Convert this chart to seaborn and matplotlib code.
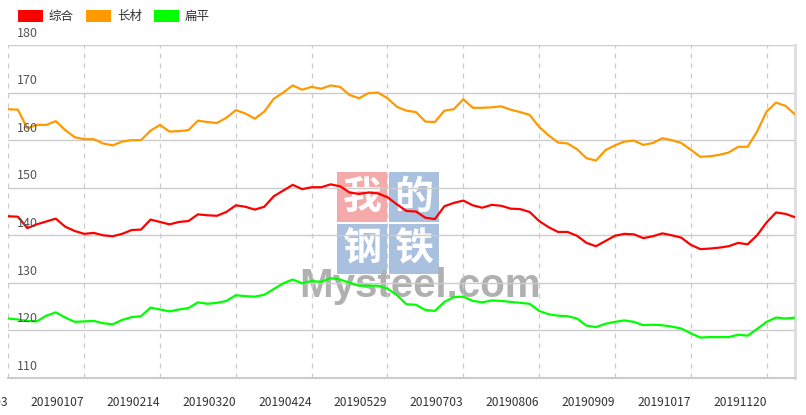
import matplotlib
matplotlib.use('Agg')
import matplotlib.pyplot as plt
import matplotlib.patches as mpatches
import seaborn as sns
import pandas as pd

# sample positions (trading-day index, every 3rd day)
day_index = list(range(0, 250, 3))

composite = [144.0, 143.9, 141.5, 142.3, 142.9, 143.5, 141.8, 140.9, 140.3, 140.5, 140.0,
             139.8, 140.3, 141.1, 141.2, 143.3, 142.8, 142.3, 142.8, 143.0, 144.4,
             144.2, 144.1, 144.9, 146.3, 146.0, 145.4, 146.0, 148.2, 149.4, 150.6,
             149.7, 150.1, 150.1, 150.7, 150.3, 149.0, 148.7, 149.0, 148.8, 148.0, 146.5,
             145.1, 145.0, 143.7, 143.4, 146.1, 146.8, 147.3, 146.3, 145.8, 146.4,
             146.2, 145.6, 145.5, 144.9, 143.0, 141.7, 140.7, 140.7, 139.9, 138.4,
             137.7, 138.8, 139.9, 140.3, 140.2, 139.4, 139.8, 140.4, 140.0, 139.5, 138.0,
             137.1, 137.2, 137.4, 137.7, 138.4, 138.1, 140.0, 142.7, 144.8, 144.5, 143.8]

long_steel = [166.5, 166.4, 162.5, 163.2, 163.2, 164.0, 162.1, 160.6, 160.2, 160.2, 159.3,
              158.9, 159.7, 160.0, 160.0, 162.0, 163.2, 161.8, 161.9, 162.1, 164.1,
              163.8, 163.6, 164.7, 166.3, 165.6, 164.5, 166.0, 168.7, 170.0, 171.5,
              170.6, 171.2, 170.8, 171.5, 171.2, 169.5, 168.8, 169.9, 170.0, 168.8, 167.0,
              166.2, 165.9, 163.9, 163.8, 166.2, 166.5, 168.6, 166.8, 166.8, 166.9,
              167.1, 166.4, 165.9, 165.3, 162.8, 161.0, 159.5, 159.3, 158.1, 156.2,
              155.7, 157.9, 158.9, 159.7, 159.9, 159.0, 159.4, 160.4, 160.0, 159.4, 158.0,
              156.5, 156.6, 156.9, 157.4, 158.6, 158.6, 161.8, 166.0, 167.9, 167.2, 165.4]

flat_steel = [122.5, 122.3, 122.0, 121.9, 123.1, 123.8, 122.7, 121.8, 121.9, 122.0, 121.5,
              121.3, 122.2, 122.8, 123.0, 124.8, 124.4, 124.0, 124.4, 124.7, 125.9,
              125.6, 125.8, 126.2, 127.4, 127.2, 127.1, 127.5, 128.7, 129.9, 130.7,
              129.9, 130.4, 130.2, 131.0, 130.7, 130.0, 129.4, 129.4, 129.4, 128.8, 127.4,
              125.5, 125.4, 124.3, 124.1, 126.0, 127.0, 127.1, 126.2, 125.9, 126.3,
              126.2, 126.0, 125.8, 125.6, 124.1, 123.4, 123.1, 123.0, 122.5, 121.0,
              120.7, 121.4, 121.8, 122.1, 121.8, 121.1, 121.2, 121.1, 120.8, 120.4, 119.4,
              118.5, 118.6, 118.6, 118.6, 119.1, 118.9, 120.3, 121.8, 122.7, 122.5, 122.7]

series_names = ['综合', '长材', '扁平']
series_colors = ['#ff0000', '#ff9900', '#00ff00']

tick_labels = ['20181203', '20190107', '20190214', '20190320', '20190424', '20190529',
               '20190703', '20190806', '20190909', '20191017', '20191120']
tick_step = 24
y_ticks = [110, 120, 130, 140, 150, 160, 170, 180]

sns.set_style('white')
plt.rcParams['font.family'] = ['Noto Sans CJK SC', 'DejaVu Sans']

df = pd.DataFrame({'day': day_index, '综合': composite, '长材': long_steel, '扁平': flat_steel})

fig = plt.figure(figsize=(8.06, 4.15), dpi=100)
ax = fig.add_axes([8.4 / 806, 37 / 415, 786.6 / 806, 333 / 415])
ax.set_facecolor('none')

for name, color in zip(series_names, series_colors):
    sns.lineplot(data=df, x='day', y=name, color=color, linewidth=1.6, ax=ax, zorder=5)

ax.set_xlim(0, 249)
ax.set_ylim(110, 180)
ax.set_xlabel('')
ax.set_ylabel('')

ax.set_xticks([i * tick_step for i in range(len(tick_labels))])
ax.set_xticklabels(tick_labels, fontsize=8.7, color='#333333', ha='right')
ax.set_yticks(y_ticks)
ax.set_yticklabels([])
ax.tick_params(axis='both', length=0)
ax.tick_params(axis='x', pad=13)

ax.grid(axis='y', color='#cccccc', linewidth=1, linestyle='-')
ax.grid(axis='x', color='#cccccc', linewidth=0.9, linestyle=(0, (4, 4)))

for side in ['left', 'top']:
    ax.spines[side].set_visible(False)
ax.spines['bottom'].set_color('#cccccc')
ax.spines['bottom'].set_linewidth(1.5)
ax.spines['right'].set_color('#dddddd')
ax.spines['right'].set_linewidth(2)

for v in y_ticks:
    ax.text(0.011, v + 1.1, str(v), transform=ax.get_yaxis_transform(),
            fontsize=9, color='#555555', va='bottom', ha='left', zorder=6, clip_on=False)

# watermark, behind the (transparent) axes
wm_boxes = [(337, 172, '#f4aaab', '我'), (389, 172, '#aac0df', '的'),
            (337, 224, '#aac0df', '钢'), (389, 224, '#aac0df', '铁')]
for x0, y0, col, ch in wm_boxes:
    fig.patches.append(mpatches.Rectangle((x0 / 806, 1 - (y0 + 50) / 415), 50 / 806, 50 / 415,
                                          transform=fig.transFigure, facecolor=col,
                                          edgecolor='none', zorder=-3))
    fig.text((x0 + 25) / 806, 1 - (y0 + 25) / 415, ch, fontsize=28, color='white',
             fontweight='bold', ha='center', va='center', zorder=-2)
fig.text(420 / 806, 1 - 286 / 415, 'Mysteel.com', fontsize=29, color='#b0b0b0',
         fontweight='bold', ha='center', va='center', zorder=-1,
         family=['Liberation Sans', 'DejaVu Sans'])

handles = [mpatches.Patch(facecolor=c, edgecolor='none', label=n)
           for n, c in zip(series_names, series_colors)]
leg = fig.legend(handles=handles, loc='upper left', bbox_to_anchor=(13 / 806, 1 - 5 / 415),
                 ncol=3, frameon=False, fontsize=9, handlelength=2.0, handleheight=1.1,
                 handletextpad=0.45, columnspacing=1.0, borderaxespad=0)
for t in leg.get_texts():
    t.set_color('#333333')

fig.savefig('out.png', dpi=100)
